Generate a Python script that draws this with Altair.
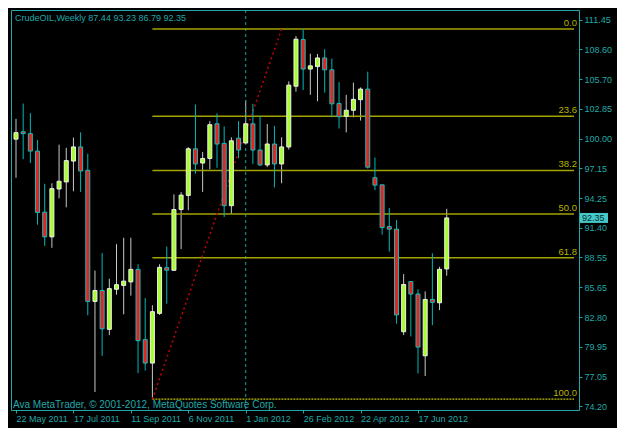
import json
import altair as alt
import pandas as pd

# ---- data (weekly candles, week 0 = 22 May 2011) ----
week = list(range(61))
opens = [99.94, 100.65, 100.47, 98.79, 92.91, 90.53, 95.14, 95.82, 97.83, 99.19,
         96.94, 84.31, 85.36, 81.62, 85.48, 85.85, 86.19, 87.40, 80.62, 78.37,
         83.16, 87.56, 87.31, 93.16, 94.52, 99.01, 97.64, 98.08, 101.42, 99.53,
         93.53, 100.03, 99.57, 101.42, 98.89, 97.46, 99.47, 97.55, 99.19, 105.04,
         109.53, 106.69, 106.93, 107.76, 106.62, 103.37, 102.14, 102.72, 103.74, 104.76,
         96.22, 95.54, 91.52, 91.27, 81.39, 86.22, 85.02, 79.07, 84.50, 84.18,
         87.44]
highs = [101.89, 103.37, 102.44, 99.87, 95.64, 95.69, 99.41, 99.10, 100.09, 100.59,
         98.54, 87.28, 88.98, 86.50, 89.82, 90.44, 90.44, 87.89, 84.64, 83.94,
         87.89, 89.60, 94.62, 94.83, 99.17, 103.28, 98.70, 101.67, 102.42, 101.17,
         100.12, 101.67, 103.68, 103.34, 102.19, 101.39, 101.21, 100.12, 105.51, 109.87,
         110.55, 108.17, 108.14, 108.60, 107.71, 105.44, 104.21, 105.39, 104.92, 106.44,
         98.17, 95.54, 93.32, 92.14, 86.94, 86.22, 85.48, 85.27, 88.95, 87.65,
         93.23]
lows = [96.22, 98.01, 97.64, 91.70, 89.66, 89.47, 94.24, 93.37, 94.92, 94.86,
        82.97, 75.58, 79.07, 81.06, 84.96, 83.07, 84.87, 77.40, 77.65, 74.90,
        83.01, 84.09, 87.25, 89.35, 93.09, 96.62, 94.86, 97.03, 97.18, 92.44,
        92.76, 98.11, 99.47, 97.55, 97.34, 97.24, 95.29, 95.69, 98.94, 104.51,
        104.67, 104.21, 103.59, 104.42, 102.04, 100.96, 100.59, 102.04, 101.73, 97.10,
        95.02, 90.74, 89.10, 82.17, 81.06, 80.93, 77.37, 77.12, 82.02, 83.47,
        86.79]
closes = [100.56, 100.47, 98.79, 92.88, 90.53, 95.17, 95.88, 97.87, 99.19, 96.87,
          84.31, 85.36, 81.67, 85.54, 85.92, 86.26, 87.40, 80.53, 78.37, 83.32,
          87.59, 87.31, 93.16, 94.55, 99.01, 97.55, 98.08, 101.33, 99.47, 93.53,
          99.78, 98.89, 101.42, 98.89, 97.46, 99.47, 97.55, 99.19, 105.14, 109.57,
          106.69, 107.00, 107.76, 106.62, 103.34, 102.10, 102.72, 103.77, 104.76, 97.24,
          95.51, 91.42, 91.27, 83.01, 85.94, 85.02, 79.91, 84.50, 84.22, 87.40,
          92.35]

tick_weeks = [0, 8, 16, 24, 32, 40, 48, 56]
tick_labels = ["22 May 2011", "17 Jul 2011", "11 Sep 2011", "6 Nov 2011",
               "1 Jan 2012", "26 Feb 2012", "22 Apr 2012", "17 Jun 2012"]
price_ticks = [111.45, 108.60, 105.70, 102.85, 100.00, 97.15, 94.25, 91.40,
               88.55, 85.65, 82.80, 79.95, 77.05, 74.20]

fib_high, fib_low = 110.55, 74.90
fib_start_week, fib_end_week, fib_low_week = 19, 37, 19
fib_levels = [0.0, 23.6, 38.2, 50.0, 61.8, 100.0]
fib_labels = ["0.0", "23.6", "38.2", "50.0", "61.8", "100.0"]
marker_week = 32
last_price = 92.35
title_text = "CrudeOIL,Weekly  87.44 93.23 86.79 92.35"
copyright_text = "Ava MetaTrader, \u00a9 2001-2012, MetaQuotes Software Corp."

# ---- layout ----
W, H = 568, 400
X_MAX = 77.73
Y_DOM = [73.85, 112.38]
TEAL = "#22a8a8"
FONT = "Liberation Sans"

candles = pd.DataFrame(dict(i=week, o=opens, h=highs, l=lows, c=closes))
fib = pd.DataFrame(dict(lvl=fib_levels, label=fib_labels))
fib["p"] = fib_high - fib["lvl"] / 100.0 * (fib_high - fib_low)
fib["x0"] = fib_start_week
fib["x1"] = X_MAX
trend = pd.DataFrame(dict(i=[fib_low_week, fib_end_week], p=[fib_low, fib_high]))

xscale = alt.Scale(domain=[0, X_MAX], nice=False, zero=False)
yscale = alt.Scale(domain=Y_DOM, nice=False, zero=False)

label_expr = (f"{json.dumps(tick_labels)}[indexof({json.dumps(tick_weeks)}, datum.value)]")

x_axis = alt.Axis(values=tick_weeks, labelExpr=label_expr, labelAlign="left",
                  labelColor=TEAL, labelFont=FONT, labelFontSize=9, tickColor=TEAL,
                  tickSize=3, labelPadding=1, domain=False, grid=False, title="",
                  labelFlush=False, labelOverlap=False)
y_axis = alt.Axis(orient="right", values=price_ticks, format=".2f", labelColor=TEAL,
                  labelFont=FONT, labelFontSize=9, tickColor=TEAL, tickSize=3,
                  labelPadding=2, domain=False, grid=False, title="",
                  labelOverlap=False, labelFlush=False)


def X(field):
    return alt.X(field, scale=xscale, axis=x_axis)


def Y(field):
    return alt.Y(field, scale=yscale, axis=y_axis)


base = alt.Chart(candles)
bull = "datum.c >= datum.o"
bear = "datum.c < datum.o"

wick_bull = base.transform_filter(bull).mark_rule(color="#c8c8c8", strokeWidth=1, clip=True).encode(
    x=X("i:Q"), y=Y("l:Q"), y2="h:Q")
wick_bear = base.transform_filter(bear).mark_rule(color="#00b8b8", strokeWidth=1, clip=True).encode(
    x=X("i:Q"), y=Y("l:Q"), y2="h:Q")
body_bull = base.transform_filter(bull).mark_bar(
    size=4, color="#a6ff2a", stroke="#f0f0f0", strokeWidth=1, clip=True).encode(
    x=X("i:Q"), y=Y("o:Q"), y2="c:Q")
body_bear = base.transform_filter(bear).mark_bar(
    size=4, color="#e8221e", stroke="#10c0c0", strokeWidth=1, clip=True).encode(
    x=X("i:Q"), y=Y("o:Q"), y2="c:Q")

fib_lines = alt.Chart(fib).transform_filter("datum.lvl < 100").mark_rule(
    color="#a3a300", strokeWidth=1.5).encode(
    x=X("x0:Q"), x2="x1:Q", y=Y("p:Q"))
fib_line100 = alt.Chart(fib).transform_filter("datum.lvl == 100").mark_rule(
    color="#f0f000", strokeWidth=1, strokeDash=[2, 1]).encode(
    x=X("x0:Q"), x2="x1:Q", y=Y("p:Q"))
fib_text = alt.Chart(fib).mark_text(
    align="right", baseline="bottom", dy=-1, color="#b8b400", font=FONT, fontSize=9.5).encode(
    x=alt.value(W - 2), y=Y("p:Q"), text="label:N")

trend_line = alt.Chart(trend).mark_line(color="#c80000", strokeWidth=1.5, strokeDash=[2, 3]).encode(
    x=X("i:Q"), y=Y("p:Q"))

vline = alt.Chart(pd.DataFrame(dict(i=[marker_week]))).mark_rule(
    color="#1aa0a0", strokeWidth=1, strokeDash=[3, 3]).encode(x=X("i:Q"))

lp = pd.DataFrame(dict(p=[last_price], t=[f"{last_price:.2f}"]))
lp["p0"] = lp["p"] - 0.48
lp["p1"] = lp["p"] + 0.48
lp_box = alt.Chart(lp).mark_rect(color="#46c8c8").encode(
    x=alt.value(W + 1), x2=alt.value(W + 29), y=Y("p0:Q"), y2="p1:Q")
lp_text = alt.Chart(lp).mark_text(align="left", baseline="middle", color="#0a2e2e",
                                  font=FONT, fontSize=9).encode(
    x=alt.value(W + 3), y=Y("p:Q"), text="t:N")

title = alt.Chart(pd.DataFrame(dict(t=[title_text]))).mark_text(
    align="left", baseline="middle", color=TEAL, font=FONT, fontSize=9).encode(
    x=alt.value(4), y=alt.value(8), text="t:N")
copy = alt.Chart(pd.DataFrame(dict(t=[copyright_text]))).mark_text(
    align="left", baseline="middle", color=TEAL, font=FONT, fontSize=10).encode(
    x=alt.value(2), y=alt.value(H - 5), text="t:N")

chart = alt.layer(
    wick_bull, vline, fib_lines, fib_line100, trend_line, wick_bear, body_bull, body_bear,
    fib_text, lp_box, lp_text, title, copy
).properties(
    width=W, height=H, background="#000000",
    padding={"left": 3, "top": 2, "right": 38, "bottom": 18},
    autosize=alt.AutoSizeParams(type="none"),
).configure_view(stroke=TEAL, strokeWidth=1)

chart.save("out.html", embed_options={"renderer": "svg", "actions": False})
